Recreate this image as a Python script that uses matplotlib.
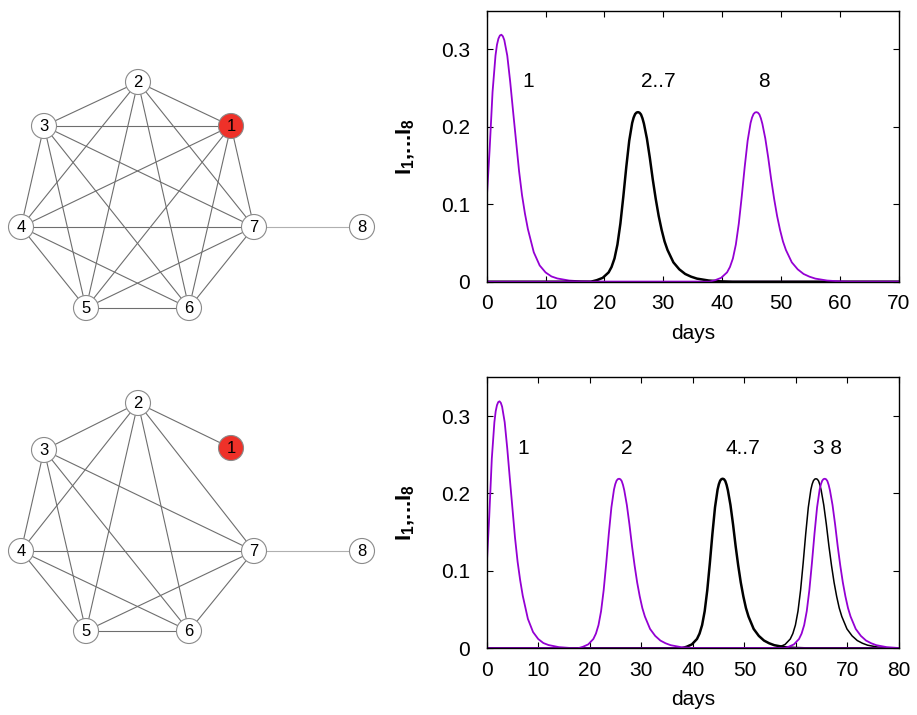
import matplotlib
matplotlib.use("Agg")
import matplotlib.pyplot as plt
from matplotlib.patches import Circle

plt.rcParams['font.family'] = ['Liberation Sans', 'DejaVu Sans']
plt.rcParams['mathtext.default'] = 'regular'

# --- graph data: node layout (pixel positions in the figure) and edges
nodes = [1, 2, 3, 4, 5, 6, 7, 8]
layout_top = {1: (231, 126), 2: (138, 82), 3: (44, 126), 4: (21, 227),
              5: (86, 308), 6: (189, 308), 7: (254, 227), 8: (362, 227)}
layout_bottom = {1: (231, 448), 2: (138, 403), 3: (44, 450), 4: (21, 551),
                 5: (86, 631), 6: (189, 631), 7: (254, 551), 8: (362, 551)}
edges_top = [(1, 2), (1, 3), (1, 4), (1, 5), (1, 6), (1, 7),
             (2, 3), (2, 4), (2, 5), (2, 6), (2, 7),
             (3, 4), (3, 5), (3, 6), (3, 7),
             (4, 5), (4, 6), (4, 7), (5, 6), (5, 7), (6, 7), (7, 8)]
edges_bottom = [(1, 2),
                (2, 3), (2, 4), (2, 5), (2, 6), (2, 7),
                (3, 4), (3, 5), (3, 6), (3, 7),
                (4, 5), (4, 6), (4, 7), (5, 6), (5, 7), (6, 7), (7, 8)]
seed_node = 1

# --- epidemic curves
# first wave (node 1, seeded at t=0)
first_t = [0, 0.5, 1.0, 1.5, 1.75, 2.0, 2.25, 2.5, 2.75, 3.0, 3.5, 4.0, 4.5,
           5.0, 5.5, 6.0, 6.5, 7.0, 8.0, 9.0, 10.0, 11.0, 12.0, 14.0, 16.0,
           18.0, 20.0]
first_I = [0.105, 0.170, 0.245, 0.292, 0.306, 0.314, 0.318, 0.319, 0.317,
           0.312, 0.292, 0.258, 0.219, 0.181, 0.143, 0.112, 0.088, 0.068,
           0.038, 0.021, 0.012, 0.0068, 0.0042, 0.0015, 0.0005, 0.0002, 0.0]
# shape of a later wave, as time relative to its peak
wave_dt = [-8.0, -7.0, -6.0, -5.0, -4.5, -4.0, -3.5, -3.0, -2.5, -2.0, -1.5,
           -1.0, -0.75, -0.5, -0.25, 0.0, 0.25, 0.5, 0.75, 1.0, 1.5, 2.0,
           2.5, 3.0, 3.5, 4.0, 4.5, 5.0, 6.0, 7.0, 8.0, 9.0, 10.0, 12.0,
           14.0, 16.0]
wave_I = [0.0, 0.002, 0.005, 0.012, 0.019, 0.030, 0.048, 0.075, 0.110, 0.148,
          0.182, 0.205, 0.212, 0.2165, 0.2185, 0.219, 0.2183, 0.216, 0.211,
          0.204, 0.185, 0.160, 0.132, 0.107, 0.085, 0.067, 0.052, 0.041,
          0.025, 0.016, 0.010, 0.0065, 0.004, 0.0015, 0.0005, 0.0]

# peak days of later waves
top_purple_peaks = [45.8]        # node 8
top_black_peaks = [25.7]         # nodes 2..7
bottom_purple_peaks = [25.7, 65.6]   # nodes 2, 8
bottom_black_peaks = [45.8, 63.9]    # nodes 4..7, node 3
bottom_black_lw = [1.8, 1.1]

top_labels = ["1", "2..7", "8"]
top_label_t = [7.0, 29.2, 47.0]
bottom_labels = ["1", "2", "4..7", "3 8"]
bottom_label_t = [7.1, 27.2, 49.7, 66.2]
label_I = 0.258

purple = "#9400d3"

fig = plt.figure(figsize=(9.17, 7.15), dpi=100)

# network drawings, drawn in figure pixel coordinates
axg = fig.add_axes([0, 0, 1, 1])
axg.set_xlim(0, 917)
axg.set_ylim(715, 0)
axg.axis("off")


def draw_graph(layout, edges):
    for a, b in edges:
        (x1, y1), (x2, y2) = layout[a], layout[b]
        col = "#b0b0b0" if 8 in (a, b) else "#6e6e6e"
        axg.plot([x1, x2], [y1, y2], color=col, lw=0.8, zorder=1)
    for n in nodes:
        x, y = layout[n]
        fc = "#ee3129" if n == seed_node else "white"
        axg.add_patch(Circle((x, y), 12.5, facecolor=fc, edgecolor="#8a8a8a",
                             lw=0.8, zorder=2))
        axg.text(x, y + 0.5, str(n), ha="center", va="center", fontsize=12,
                 color="black", zorder=3)


draw_graph(layout_top, edges_top)
draw_graph(layout_bottom, edges_bottom)


def style_axes(ax, xmax):
    ax.set_xlim(0, xmax)
    ax.set_ylim(0, 0.35)
    ax.set_xticks(range(0, xmax + 1, 10))
    ax.set_yticks([0, 0.1, 0.2, 0.3])
    ax.set_yticklabels(["0", "0.1", "0.2", "0.3"])
    ax.tick_params(direction="in", top=True, right=True, length=4,
                   width=0.8, labelsize=15)
    ax.tick_params(axis="x", pad=9)
    ax.tick_params(axis="y", pad=12)
    for s in ax.spines.values():
        s.set_linewidth(1.0)
    ax.set_xlabel("days", fontsize=15)
    ax.xaxis.set_label_coords(0.5, -0.155)
    ax.set_ylabel("I$_1$,...I$_8$", fontsize=16, fontweight="bold")
    ax.yaxis.set_label_coords(-0.17, 0.5)


def wave(peak):
    return [peak + d for d in wave_dt]


# top chart
ax1 = fig.add_axes([0.5307, 0.606, 0.4497, 0.379])
ax1.plot(first_t + [70], first_I + [0.0], color=purple, lw=1.3)
for p in top_black_peaks:
    ax1.plot([0] + wave(p) + [70], [0] + wave_I + [0], color="black", lw=1.8)
for p in top_purple_peaks:
    ax1.plot([0] + wave(p) + [70], [0] + wave_I + [0], color=purple, lw=1.3)
for lab, t in zip(top_labels, top_label_t):
    ax1.text(t, label_I, lab, ha="center", va="center", fontsize=15)
style_axes(ax1, 70)

# bottom chart
ax2 = fig.add_axes([0.5307, 0.0933, 0.4497, 0.379])
ax2.plot(first_t + [80], first_I + [0.0], color=purple, lw=1.3)
for p, lw in zip(bottom_black_peaks, bottom_black_lw):
    ax2.plot([0] + wave(p) + [80], [0] + wave_I + [0], color="black", lw=lw)
for p in bottom_purple_peaks:
    ax2.plot([0] + wave(p) + [80], [0] + wave_I + [0], color=purple, lw=1.3)
for lab, t in zip(bottom_labels, bottom_label_t):
    ax2.text(t, label_I, lab, ha="center", va="center", fontsize=15)
style_axes(ax2, 80)

fig.savefig("out.png", dpi=100)
